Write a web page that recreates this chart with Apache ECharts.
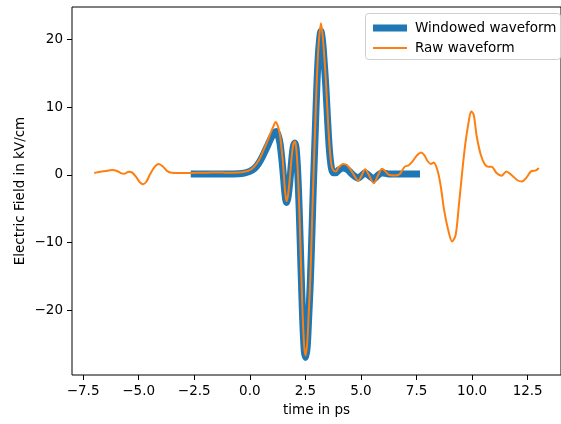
<!DOCTYPE html>
<html><head><meta charset="utf-8">
<script src="https://cdn.jsdelivr.net/npm/echarts@6/dist/echarts.min.js"></script>
<style>html,body{margin:0;padding:0;background:#fff}#c{width:561px;height:424px}</style>
</head><body><div id="c"></div>
<script>
// Raw waveform: time (ps), field (kV/cm)
const rawT = [-7.0,-6.8,-6.5,-6.2,-6.0,-5.8,-5.65,-5.45,-5.3,-5.1,-4.95,-4.8,-4.65,-4.5,-4.3,-4.1,-3.9,-3.7,-3.5,-3.2,-2.8,-2.4,-2.0,-1.5,-1.0,-0.5,-0.25,0.0,0.2,0.4,0.6,0.8,0.95,1.08,1.16,1.25,1.35,1.45,1.52,1.58,1.65,1.72,1.8,1.88,1.95,2.02,2.08,2.15,2.22,2.3,2.38,2.45,2.51,2.58,2.65,2.72,2.8,2.86,2.94,3.02,3.1,3.2,3.28,3.35,3.42,3.5,3.58,3.67,3.75,3.87,4.0,4.2,4.38,4.6,4.75,4.88,5.0,5.19,5.35,5.58,5.75,5.95,6.1,6.25,6.55,6.75,6.97,7.15,7.33,7.5,7.7,7.85,8.0,8.15,8.27,8.44,8.59,8.74,8.92,9.1,9.26,9.4,9.55,9.7,9.85,9.96,10.07,10.21,10.39,10.58,10.73,10.88,11.1,11.32,11.54,11.76,12.06,12.25,12.43,12.65,12.87,13.0];
const rawE = [0.25,0.4,0.55,0.7,0.6,0.25,0.15,0.45,0.35,-0.4,-1.1,-1.4,-1.0,0.0,1.1,1.6,1.2,0.5,0.3,0.25,0.25,0.3,0.3,0.35,0.3,0.35,0.45,0.7,1.2,2.1,3.5,5.0,6.3,7.3,7.8,7.3,6.0,3.2,0.5,-2.2,-3.9,-3.0,-0.5,2.5,4.4,4.9,4.2,1.0,-4.5,-13.0,-21.0,-25.5,-26.7,-25.0,-20.5,-15.5,-7.0,-0.7,7.0,14.5,19.5,22.4,20.5,17.5,14.0,9.0,4.5,1.5,0.7,0.5,1.1,1.6,1.4,0.4,-0.4,-0.9,-0.3,0.8,0.0,-1.25,-0.2,0.9,0.5,0.0,-0.1,0.1,1.2,1.4,2.0,2.8,3.3,2.9,2.0,1.6,1.8,0.7,-1.7,-5.2,-8.1,-9.85,-8.9,-4.7,0.25,4.7,7.9,9.35,8.9,5.65,2.95,1.5,1.2,1.2,0.25,-0.15,0.5,0.0,-0.85,-1.0,-0.5,0.5,0.65,1.0];
// Windowed waveform
const winT = [-2.5,-2.0,-1.5,-1.0,-0.5,-0.25,0.0,0.2,0.4,0.6,0.8,0.95,1.08,1.18,1.27,1.36,1.45,1.52,1.58,1.65,1.72,1.8,1.88,1.95,2.02,2.08,2.15,2.22,2.3,2.38,2.45,2.51,2.58,2.65,2.72,2.8,2.86,2.94,3.02,3.1,3.2,3.28,3.35,3.42,3.5,3.58,3.67,3.75,3.87,4.0,4.2,4.38,4.6,4.75,4.88,5.0,5.19,5.35,5.58,5.75,5.95,6.1,6.3,7.0,7.5];
const winE = [0.1,0.1,0.1,0.1,0.15,0.25,0.5,0.9,1.7,2.9,4.3,5.4,6.1,6.4,5.9,4.6,2.0,-0.5,-2.8,-4.1,-3.3,-1.0,2.0,4.0,4.7,4.0,0.7,-5.0,-13.5,-21.5,-26.0,-27.0,-25.5,-21.0,-16.0,-8.0,-1.5,6.0,13.5,18.5,21.2,19.5,16.5,13.0,8.0,3.7,1.0,0.3,0.3,0.7,1.0,0.8,0.1,-0.3,-0.5,-0.2,0.3,-0.1,-0.6,-0.1,0.3,0.2,0.1,0.1,0.1];
const xTicks = [-7.5,-5.0,-2.5,0.0,2.5,5.0,7.5,10.0,12.5];
const yTicks = [-20,-10,0,10,20];

const FONT = 'DejaVu Sans';
const fmtMinus = s => String(s).replace('-', '\u2212');
const chart = echarts.init(document.getElementById('c'), null, {renderer:'canvas'});
const zip = (a,b) => a.map((v,i)=>[v,b[i]]);
chart.setOption({
  animation:false,
  grid:{left:72, top:7, width:496, height:368, show:true, borderColor:'#000', borderWidth:1, backgroundColor:'transparent'},
  xAxis:{type:'value', min:-8, max:14,
    name:'time in ps', nameLocation:'middle', nameGap:28, nameMoveOverlap:false,
    nameTextStyle:{fontFamily:FONT, fontSize:13.5, color:'#000'},
    axisLine:{show:false, onZero:false}, splitLine:{show:false},
    axisTick:{show:true, length:5, inside:false, lineStyle:{color:'#000'}, customValues:xTicks},
    axisLabel:{customValues:xTicks, margin:9, fontFamily:FONT, fontSize:13.5, color:'#000',
      formatter:v=>fmtMinus(v.toFixed(1))}
  },
  yAxis:{type:'value', min:-29.6, max:24.8,
    name:'Electric Field in kV/cm', nameLocation:'middle', nameGap:45, nameRotate:90, nameMoveOverlap:false,
    nameTextStyle:{fontFamily:FONT, fontSize:13.5, color:'#000'},
    axisLine:{show:false, onZero:false}, splitLine:{show:false},
    axisTick:{show:true, length:5, inside:false, lineStyle:{color:'#000'}, customValues:yTicks},
    axisLabel:{customValues:yTicks, margin:9, fontFamily:FONT, fontSize:13.5, color:'#000',
      formatter:v=>fmtMinus(Math.round(v))}
  },
  graphic:[{type:'rect', left:365, top:13, z:90,
    shape:{width:195, height:46, r:3},
    style:{fill:'rgba(255,255,255,0.8)', stroke:'#d0d0d0', lineWidth:1}}],
  legend:[
    {data:['Windowed waveform'], left:368, top:16, itemWidth:34, itemHeight:7, icon:'rect', z:100,
      textStyle:{fontFamily:FONT, fontSize:13.5, color:'#000', padding:[0,0,0,3]}},
    {data:['Raw waveform'], left:368, top:36, itemWidth:34, itemHeight:2, icon:'rect', z:100,
      textStyle:{fontFamily:FONT, fontSize:13.5, color:'#000', padding:[0,0,0,3]}}
  ],
  series:[
    {name:'Windowed waveform', type:'line', data:zip(winT,winE), symbol:'none', showSymbol:false,
      smooth:0.3, color:'#1f77b4', lineStyle:{width:7, color:'#1f77b4', cap:'square', join:'round'}},
    {name:'Raw waveform', type:'line', data:zip(rawT,rawE), symbol:'none', showSymbol:false,
      smooth:0.3, color:'#ff7f0e', lineStyle:{width:2, color:'#ff7f0e', join:'round'}}
  ]
});
</script></body></html>
